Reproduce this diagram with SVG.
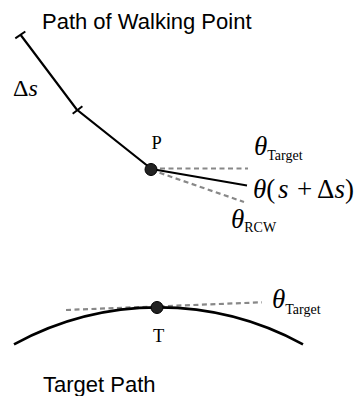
<svg xmlns="http://www.w3.org/2000/svg" width="358" height="396" viewBox="0 0 358 396">
<style>
.sans{font-family:"Liberation Sans",Arial,sans-serif;fill:#000;font-size:22px}
.serif{font-family:"Liberation Serif","Times New Roman",serif;fill:#000}
.it{font-style:italic}
.math{font-size:27px}
.sub{font-size:14px}
.lbl{font-size:18.5px}
.solid{fill:none;stroke:#000;stroke-linecap:butt}
.dash{fill:none;stroke:#888;stroke-width:2.2;stroke-dasharray:5,3.5}
.dot{fill:#222;stroke:#000;stroke-width:1}
</style>
<rect width="358" height="396" fill="#fff"/>
<text class="sans" x="42" y="29">Path of Walking Point</text>
<g id="walking-path">
<polyline class="solid" stroke-width="2.2" points="20.7,35 76.7,109.5 151.5,169"/>
<line class="solid" stroke-width="2" x1="15.3" y1="38.3" x2="25.3" y2="31.5"/>
<line class="solid" stroke-width="2" x1="72.7" y1="113.7" x2="82.4" y2="106.2"/>
<text class="serif" x="13" y="96" font-size="24">Δ<tspan class="it">s</tspan></text>
</g>
<g id="connectors">
<line class="dash" x1="151.5" y1="168.5" x2="248" y2="168.5"/>
<line class="solid" stroke-width="2" x1="151.5" y1="169" x2="247" y2="185.5"/>
<line class="dash" x1="151.5" y1="170" x2="244" y2="202"/>
<line class="dash" x1="66" y1="310" x2="262" y2="302.3"/>
</g>
<g id="P">
<circle class="dot" cx="151" cy="169.5" r="6"/>
<text class="serif lbl" x="151.5" y="149">P</text>
</g>
<g id="theta-target-top">
<text class="serif math" x="254" y="155"><tspan class="it">θ</tspan><tspan class="sub" dy="4.5">Target</tspan></text>
</g>
<g id="theta-s">
<text class="serif math" x="253" y="197.5"><tspan class="it">θ</tspan>(<tspan class="it" x="278">s</tspan></text>
<text class="serif math" x="297" y="197.5">+</text>
<text class="serif math" x="317" y="197.5">Δ<tspan class="it">s</tspan>)</text>
</g>
<g id="theta-rcw">
<text class="serif math" x="231" y="228"><tspan class="it">θ</tspan><tspan class="sub" dy="4">RCW</tspan></text>
</g>
<g id="target-path">
<path class="solid" stroke-width="2.6" d="M14,344.3 A301,301 0 0 1 303,344.3"/>
<text class="sans" x="43" y="391.5">Target Path</text>
</g>
<g id="T">
<circle class="dot" cx="157" cy="307.5" r="6"/>
<text class="serif lbl" x="153" y="341.5">T</text>
</g>
<g id="theta-target-bottom">
<text class="serif math" x="272" y="308.3"><tspan class="it">θ</tspan><tspan class="sub" dy="5.5">Target</tspan></text>
</g>
</svg>
